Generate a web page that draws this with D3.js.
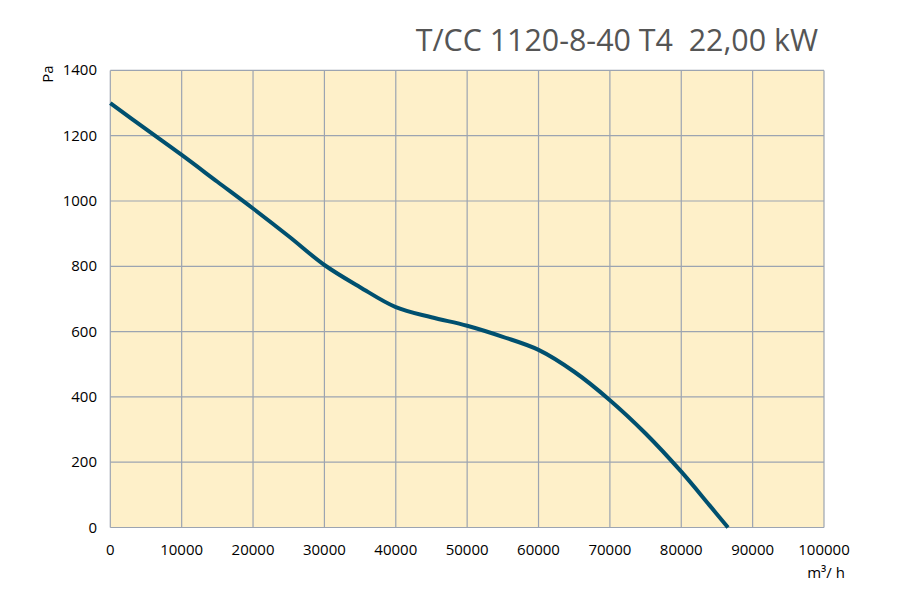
<!DOCTYPE html>
<html><head><meta charset="utf-8">
<script src="https://cdn.jsdelivr.net/npm/d3@7"></script>
<style>body{margin:0;background:#fff}svg{display:block}</style>
</head><body>
<svg id="chart" width="900" height="600"></svg>
<script>
const title = "T/CC 1120-8-40 T4  22,00 kW";
const flow = [0,5000,10000,15000,20000,25000,30000,35000,40000,45000,50000,55000,60000,65000,70000,75000,80000,84000,86550];
const pressure = [1300,1220,1141,1059,977,892,804,736,675,644,618,584,544,477,390,288,171,67,0];
const xTicks = [0,10000,20000,30000,40000,50000,60000,70000,80000,90000,100000];
const yTicks = [0,200,400,600,800,1000,1200,1400];

const svg = d3.select("#chart");
const L=110.3, R=824, T=70.4, B=527.5;
const x = d3.scaleLinear().domain([0,100000]).range([L,R]);
const y = d3.scaleLinear().domain([0,1400]).range([B,T]);
const font = "'Open Sans', 'Noto Sans', sans-serif";
const gridCol = "#9ca4b1";

svg.append("rect").attr("x",L).attr("y",T).attr("width",R-L).attr("height",B-T).attr("fill","#fef0c9");

svg.append("g").selectAll("line").data(xTicks).join("line")
  .attr("x1",d=>x(d)).attr("x2",d=>x(d)).attr("y1",T).attr("y2",B)
  .attr("stroke",gridCol).attr("stroke-width",1.2);
svg.append("g").selectAll("line").data(yTicks).join("line")
  .attr("x1",L).attr("x2",R).attr("y1",d=>y(d)).attr("y2",d=>y(d))
  .attr("stroke",gridCol).attr("stroke-width",1.2);

svg.append("g").selectAll("text").data(xTicks).join("text")
  .attr("x",d=>x(d)).attr("y",555).attr("text-anchor","middle")
  .attr("font-family",font).attr("font-size",15).attr("fill","#000").text(d=>d);
svg.append("g").selectAll("text").data(yTicks).join("text")
  .attr("x",97).attr("y",d=>y(d)+5).attr("text-anchor","end")
  .attr("font-family",font).attr("font-size",15).attr("fill","#000").text(d=>d);

svg.append("text").attr("x",826).attr("y",578).attr("text-anchor","middle")
  .attr("font-family",font).attr("font-size",15).attr("fill","#000").text("m³/ h");
svg.append("text").attr("transform","translate(53,74) rotate(-90)").attr("text-anchor","middle")
  .attr("font-family",font).attr("font-size",15).attr("fill","#000").text("Pa");

svg.append("text").attr("x",818).attr("y",51).attr("text-anchor","end")
  .attr("xml:space","preserve").style("white-space","pre")
  .attr("font-family",font).attr("font-size",30.4).attr("fill","#555").text(title);

const line = d3.line().x((d,i)=>x(flow[i])).y(d=>y(d)).curve(d3.curveCatmullRom.alpha(0.5));
svg.append("path").attr("d",line(pressure)).attr("fill","none")
  .attr("stroke","#00506f").attr("stroke-width",4).attr("stroke-linecap","butt");
</script>
</body></html>
